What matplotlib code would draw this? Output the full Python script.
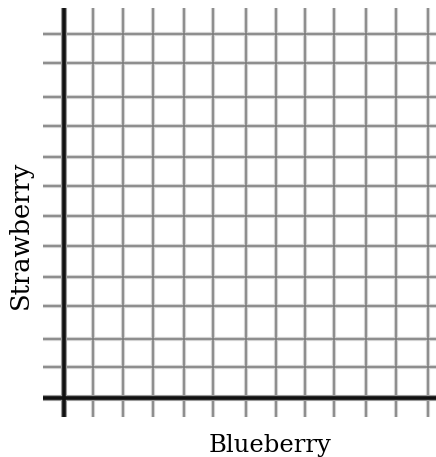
import matplotlib.pyplot as plt
import numpy as np

# grid line positions (one unit = one grid square)
x_lines = [0.96, 1.95, 2.93, 3.96, 4.91, 6.0, 6.99, 7.95, 8.9, 9.96, 10.95, 12.0]
y_lines = [1.02, 1.95, 3.03, 3.99, 5.01, 6.0, 6.99, 7.95, 8.97, 9.92, 11.05, 12.0]
x_label = "Blueberry"
y_label = "Strawberry"

fig = plt.figure(figsize=(4.36, 4.57), dpi=100)
ax = fig.add_axes([0, 0, 1, 1])
ax.set_xlim(-2.11, 12.265)
ax.set_ylim(-1.945, 13.12)
ax.axis('off')

x0, x1 = -0.69, 12.3
y0, y1 = -0.63, 12.86

# soft scanned-looking grid: wide light stroke under a thin darker one
ax.hlines(y_lines, x0, x1, colors='#d2d2d2', lw=3.0)
ax.vlines(x_lines, y0, y1, colors='#d2d2d2', lw=3.0)
ax.hlines(y_lines, x0, x1, colors='#7a7a7a', lw=1.1)
ax.vlines(x_lines, y0, y1, colors='#7a7a7a', lw=1.1)

# main axes
ax.hlines([0], x0, x1, colors='#9a9a9a', lw=4.4)
ax.vlines([0], y0, y1, colors='#9a9a9a', lw=4.4)
ax.hlines([0], x0, x1, colors='#111111', lw=2.6)
ax.vlines([0], y0, y1, colors='#111111', lw=2.6)

fig.text(270 / 436, 1 - 452 / 457, x_label, family='DejaVu Serif',
         fontsize=17.5, ha='center', va='baseline')
fig.text(20 / 436, 1 - 235 / 457, y_label, family='DejaVu Serif',
         fontsize=18.5, ha='center', va='center', rotation=90)

fig.savefig('out.png', dpi=100)
